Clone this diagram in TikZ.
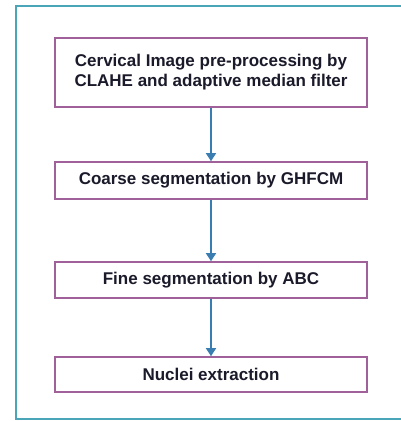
\documentclass[tikz,border=0pt]{standalone}
\usepackage{fontspec}
\setmainfont{Liberation Sans}
\usetikzlibrary{arrows.meta}
\definecolor{framecol}{HTML}{4BA5B8}
\definecolor{boxcol}{HTML}{A0609A}
\definecolor{arrowcol}{HTML}{3A7DB0}
\definecolor{textcol}{HTML}{1A1A2A}
\tikzset{
  stepbox/.style={draw=boxcol, line width=1.6pt, fill=white, minimum width=312pt,
    inner sep=0pt, align=center, font=\bfseries\fontsize{17}{20}\selectfont, text=textcol},
  flow/.style={draw=arrowcol, line width=1.6pt, -{Triangle[length=8pt,width=10pt]}}
}
\begin{document}
\begin{tikzpicture}[x=1pt,y=-1pt]
  \useasboundingbox (0,0) rectangle (400,421);
  % outer frame, running past the right edge
  \draw[framecol, line width=2pt] (420,6) -- (16,6) -- (16,419) -- (420,419);
  \node[stepbox, minimum height=69pt] (pre) at (211,72.5)
    {Cervical Image pre-processing by\\CLAHE and adaptive median filter};
  \node[stepbox, minimum height=37pt] (coarse) at (211,180.5) {Coarse segmentation by GHFCM};
  \node[stepbox, minimum height=36pt] (fine) at (211,280) {Fine segmentation by ABC};
  \node[stepbox, minimum height=35pt] (nuclei) at (211,374.5) {Nuclei extraction};
  \draw[flow] (pre) -- (coarse);
  \draw[flow] (coarse) -- (fine);
  \draw[flow] (fine) -- (nuclei);
\end{tikzpicture}
\end{document}
